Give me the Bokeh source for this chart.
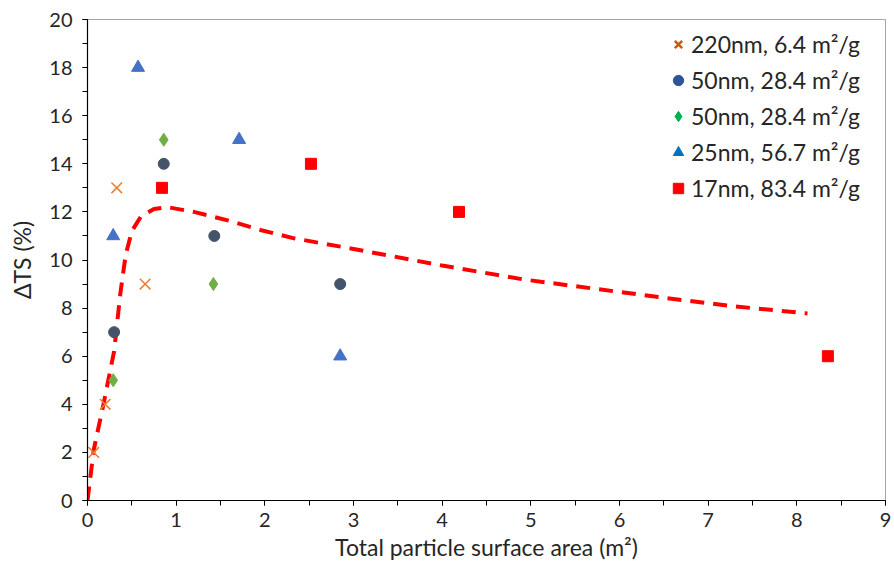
from bokeh.plotting import figure
from bokeh.models import SingleIntervalTicker, Range1d, Legend, LegendItem, ColumnDataSource
from bokeh.embed import file_html
from bokeh.resources import INLINE

# ---- data ----
x_220 = [0.07, 0.20, 0.33, 0.65]
y_220 = [2, 4, 13, 9]

x_50a = [0.30, 0.86, 1.43, 2.85]
y_50a = [7, 14, 11, 9]

x_50b = [0.29, 0.86, 1.42]
y_50b = [5, 15, 9]

x_25 = [0.29, 0.57, 1.71, 2.85]
y_25 = [11, 18, 15, 6]

x_17 = [0.84, 2.52, 4.19, 8.35]
y_17 = [13, 14, 12, 6]

fit_x = [0.0, 0.07, 0.18, 0.30, 0.37, 0.43, 0.50, 0.60, 0.75, 0.90, 1.2, 1.58, 1.95, 2.33, 2.97, 4.0, 4.92, 6.48, 7.27, 8.12]
fit_y = [0.0, 2.1, 4.0, 6.2, 8.6, 10.2, 11.2, 11.8, 12.12, 12.2, 12.0, 11.65, 11.25, 10.9, 10.48, 9.77, 9.19, 8.44, 8.08, 7.78]

labels = ["220nm, 6.4 m\u00b2/g", "50nm, 28.4 m\u00b2/g", "50nm, 28.4 m\u00b2/g",
          "25nm, 56.7 m\u00b2/g", "17nm, 83.4 m\u00b2/g"]

FONT = "Lato"
TXT = "#262626"

p = figure(width=894, height=565, output_backend="svg", toolbar_location=None,
           x_range=Range1d(0, 9), y_range=Range1d(0, 20),
           min_border_left=87, min_border_right=9, min_border_top=19, min_border_bottom=65)
p.xgrid.visible = False
p.ygrid.visible = False
p.outline_line_color = "#A6A6A6"
p.outline_line_width = 1
p.background_fill_color = "white"
p.border_fill_color = "white"

p.xaxis.ticker = SingleIntervalTicker(interval=1, num_minor_ticks=2)
p.yaxis.ticker = SingleIntervalTicker(interval=2, num_minor_ticks=2)
for ax in (p.xaxis[0], p.yaxis[0]):
    ax.axis_line_color = "#000000"
    ax.axis_line_width = 1.2
    ax.major_tick_line_color = "#000000"
    ax.minor_tick_line_color = "#000000"
    ax.major_tick_in = 0
    ax.major_tick_out = 5
    ax.minor_tick_in = 0
    ax.minor_tick_out = 5
    ax.major_label_text_font = FONT
    ax.major_label_text_font_size = "20px"
    ax.major_label_text_color = TXT
    ax.axis_label_text_font = FONT
    ax.axis_label_text_font_size = "23px"
    ax.axis_label_text_font_style = "normal"
    ax.axis_label_text_color = TXT

p.xaxis.axis_label = "Total particle surface area (m\u00b2)"
p.yaxis.axis_label = "\u0394TS (%)"
p.xaxis.major_label_standoff = 7
p.yaxis.major_label_standoff = 10
p.xaxis.axis_label_standoff = 3
p.yaxis.axis_label_standoff = 10

# fitted dashed curve
p.line(fit_x, fit_y, line_color="#FF0000", line_width=4, line_dash="14 9")

# data markers
p.scatter(x_220, y_220, marker="x", size=15, line_color="#ED7D31", line_width=1.5)
p.scatter(x_50a, y_50a, marker="circle", size=11, fill_color="#44546A", line_color="#44546A")
p.scatter(x_50b, y_50b, marker="diamond", size=13, fill_color="#70AD47", line_color="#70AD47")
p.scatter(x_25, y_25, marker="triangle", size=13, fill_color="#4472C4", line_color="#4472C4")
p.scatter(x_17, y_17, marker="square", size=11, fill_color="#FF0000", line_color="#FF0000")

# legend swatches (reference legend uses slightly different colours); placed off-range so only legend shows them
off = dict(x=[-100], y=[-100])
l1 = p.scatter("x", "y", source=ColumnDataSource(off), marker="x", size=14, line_color="#C55A11", line_width=2.5)
l2 = p.scatter("x", "y", source=ColumnDataSource(off), marker="circle", size=10, fill_color="#2F5597", line_color="#2F5597")
l3 = p.scatter("x", "y", source=ColumnDataSource(off), marker="diamond", size=12, fill_color="#00B050", line_color="#00B050")
l4 = p.scatter("x", "y", source=ColumnDataSource(off), marker="triangle", size=12, fill_color="#0070C0", line_color="#0070C0")
l5 = p.scatter("x", "y", source=ColumnDataSource(off), marker="square", size=10, fill_color="#FF0000", line_color="#FF0000")

legend = Legend(items=[LegendItem(label=labels[i], renderers=[r]) for i, r in enumerate([l1, l2, l3, l4, l5])],
                location=(578, 298))
legend.label_text_font = FONT
legend.label_text_font_size = "23px"
legend.label_text_color = TXT
legend.border_line_color = None
legend.background_fill_alpha = 0
legend.glyph_width = 26
legend.glyph_height = 28
legend.label_height = 28
legend.spacing = 8
legend.label_standoff = 0
legend.margin = 0
legend.padding = 10
p.add_layout(legend, "center")

open("out.html", "w").write(file_html(p, INLINE))
